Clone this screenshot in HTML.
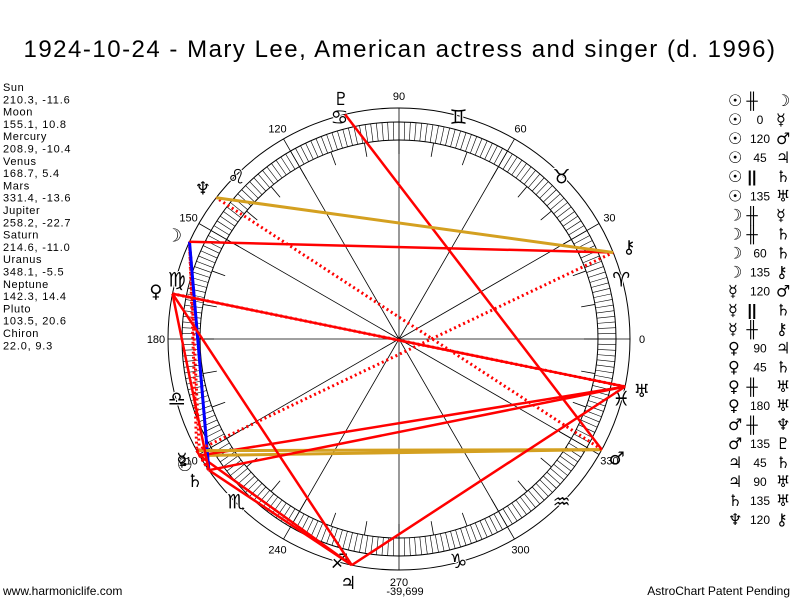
<!DOCTYPE html>
<html><head><meta charset="utf-8"><style>
body{margin:0;background:#fff;width:800px;height:600px;overflow:hidden;font-family:"Liberation Sans","DejaVu Sans",sans-serif}
svg{position:absolute;left:0;top:0}
</style></head><body>
<svg id="c" width="800" height="600" xmlns="http://www.w3.org/2000/svg"></svg>
<script>
const planetNames=["Sun","Moon","Mercury","Venus","Mars","Jupiter","Saturn","Uranus","Neptune","Pluto","Chiron"];
const planetGlyphs=["☉","☽","☿","♀","♂","♃","♄","♅","♆","♇","⚷"];
const longitudes=[210.3,155.1,208.9,168.7,331.4,258.2,214.6,348.1,142.3,103.5,22.0];
const declinations=[-11.6,10.8,-10.4,5.4,-13.6,-22.7,-11.0,-5.5,14.4,20.6,9.3];
const aspectFrom=[0,0,0,0,0,0,1,1,1,1,2,2,2,3,3,3,3,4,4,5,5,6,8];
const aspectType=["#","0","120","45","||","135","#","#","60","135","120","||","#","90","45","#","180","#","135","45","90","135","120"];
const aspectTo=[1,2,4,5,6,7,2,6,6,10,4,6,10,5,6,7,7,8,9,6,7,7,10];
const signGlyphs=["♈","♉","♊","♋","♌","♍","♎","♏","♐","♑","♒","♓"];
const degreeLabels=["0","30","60","90","120","150","180","210","240","270","300","330"];

const S=document.getElementById('c'),NS="http://www.w3.org/2000/svg";
const cx=399,cy=339,R=231;
function px(a,r){return cx+r*Math.cos(a*Math.PI/180);}
function py(a,r){return cy-r*Math.sin(a*Math.PI/180);}
function el(t,a,p){const e=document.createElementNS(NS,t);for(const k in a)e.setAttribute(k,a[k]);(p||S).appendChild(e);return e;}
function txt(x,y,s,size,fill,anchor){const e=el('text',{x:x,y:y,'font-size':size,fill:fill||'#000','text-anchor':anchor||'start','font-family':'"Liberation Sans","DejaVu Sans",sans-serif'});e.textContent=s;return e;}

let t=txt(400,57,"1924-10-24 - Mary Lee, American actress and singer (d. 1996)",24,'#000','middle');
t.setAttribute('letter-spacing','1.5');


for(let i=0;i<planetNames.length;i++){
 let a=txt(3,91+i*24.6,planetNames[i],11,'#000');
 a.setAttribute('letter-spacing','0.6');
 
 let b=txt(3,103.3+i*24.6,longitudes[i].toFixed(1)+", "+declinations[i].toFixed(1),11,'#000');
 b.setAttribute('letter-spacing','0.8');
 
}

let c1=el('circle',{cx:cx,cy:cy,r:R,fill:'none',stroke:'#000','stroke-width':1});

el('circle',{cx:cx,cy:cy,r:217,fill:'none',stroke:'#000','stroke-width':1});
el('circle',{cx:cx,cy:cy,r:199,fill:'none',stroke:'#000','stroke-width':1});
for(let d=0;d<360;d+=1.5){
 el('line',{x1:px(d,199),y1:py(d,199),x2:px(d,217),y2:py(d,217),stroke:'#000','stroke-width':0.6});
}
for(let d=0;d<360;d+=10){
 el('line',{x1:px(d,185),y1:py(d,185),x2:px(d,199),y2:py(d,199),stroke:'#000','stroke-width':0.8});
}
for(let i=0;i<12;i++){
 let d=i*30;
 let l=el('line',{x1:cx,y1:cy,x2:px(d,R),y2:py(d,R),stroke:'#000','stroke-width':0.8});
 
 let lb=txt(px(d,243),py(d,243)+4,degreeLabels[i],11,'#000','middle');
 
}
for(let i=0;i<12;i++){
 let d=i*30+15;
 let g=txt(px(d,230),py(d,230)+7,signGlyphs[i],20,'#000','middle');
 g.setAttribute('stroke','#fff');g.setAttribute('stroke-width','2');g.setAttribute('paint-order','stroke');
 g.setAttribute('font-family','"DejaVu Sans",sans-serif');
 
}
function style(type){
 if(type=="120")return{stroke:'#D4A020','stroke-width':3};
 if(type=="60")return{stroke:'#0000FF','stroke-width':3};
 if(type=="#"||type=="||")return{stroke:'#FF0000','stroke-width':3,'stroke-dasharray':'2 3'};
 return{stroke:'#FF0000','stroke-width':2.5};
}
for(let i=0;i<aspectFrom.length;i++){
 const a=longitudes[aspectFrom[i]],b=longitudes[aspectTo[i]];
 const s=style(aspectType[i]);
 s.x1=px(a,R);s.y1=py(a,R);s.x2=px(b,R);s.y2=py(b,R);
 const l=el('line',s);
 
 
}
for(let i=0;i<planetNames.length;i++){
 const d=longitudes[i];
 const g=txt(px(d,248),py(d,248)+7,planetGlyphs[i],18,'#000','middle');
 g.setAttribute('font-family','"DejaVu Sans",sans-serif');
 
 
}
for(let i=0;i<aspectFrom.length;i++){
 const y=106+i*19.05;
 const g1=txt(728,y,planetGlyphs[aspectFrom[i]],16,'#000','start');
 g1.setAttribute('font-family','"DejaVu Sans",sans-serif');
 g1.setAttribute('font-weight','bold');
 
 let g2;
 if(aspectType[i]=="#"){g2=txt(752,y,"╫",16,'#000','middle');g2.setAttribute('font-weight','bold');}
 else if(aspectType[i]=="||"){g2=txt(752,y,"||",16,'#000','middle');g2.setAttribute('font-weight','bold');}
 else g2=txt(760,y-1,aspectType[i],12,'#000','middle');
 
 const g3=txt(776,y,planetGlyphs[aspectTo[i]],16,'#000','start');
 g3.setAttribute('font-family','"DejaVu Sans",sans-serif');
 g3.setAttribute('font-weight','bold');
 
}
let f1=txt(3,595,"www.harmoniclife.com",12,'#000');

let f2=txt(790,595,"AstroChart Patent Pending",12,'#000','end');

let f3=txt(405,595,"-39,699",11,'#000','middle');

</script>
</body></html>
